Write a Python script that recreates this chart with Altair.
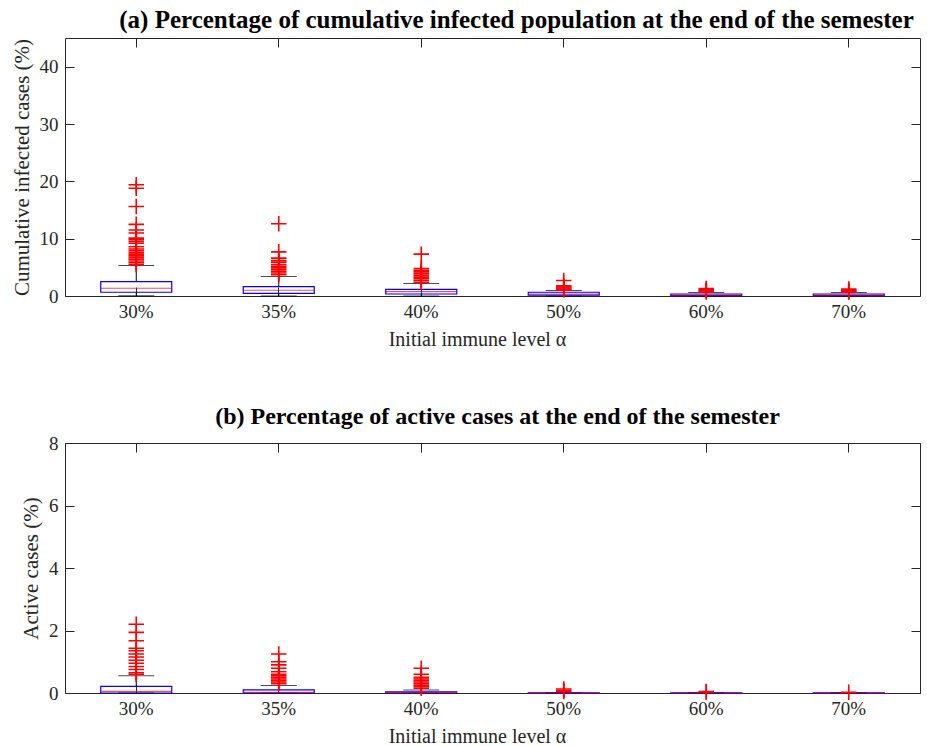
import altair as alt
import pandas as pd

cats = ["30%", "35%", "40%", "50%", "60%", "70%"]

# Panel (a): cumulative infected cases (%)
a_q1 = [0.65, 0.47, 0.35, 0.17, 0.05, 0.05]
a_med = [1.35, 1.0, 0.75, 0.35, 0.15, 0.15]
a_q3 = [2.5, 1.65, 1.15, 0.65, 0.35, 0.35]
a_lo = [0.05, 0.02, 0.0, 0.0, 0.0, 0.0]
a_hi = [5.3, 3.4, 2.2, 0.95, 0.6, 0.6]
a_out = [
    [19.4, 18.8, 15.6, 12.5, 11.5, 11.0, 10.1, 9.8, 9.5, 9.2, 8.6, 8.2, 7.9,
     7.6, 7.3, 7.0, 6.7, 6.4, 6.1, 5.8, 5.5],
    [12.6, 7.7, 6.6, 6.2, 5.9, 5.5, 5.2, 4.9, 4.6, 4.3, 4.0, 3.7],
    [7.3, 4.8, 4.5, 4.2, 3.9, 3.6, 3.3, 3.0, 2.7, 2.4],
    [2.7, 1.8, 1.6, 1.4, 1.2, 1.05],
    [1.3, 1.1, 0.9, 0.7],
    [1.2, 1.0, 0.8, 0.7],
]

# Panel (b): active cases (%)
b_q1 = [0.0, 0.0, 0.0, 0.0, 0.0, 0.0]
b_med = [0.05, 0.02, 0.01, 0.0, 0.0, 0.0]
b_q3 = [0.21, 0.1, 0.04, 0.005, 0.003, 0.002]
b_lo = [0.0, 0.0, 0.0, 0.0, 0.0, 0.0]
b_hi = [0.55, 0.24, 0.1, 0.02, 0.01, 0.005]
b_out = [
    [2.2, 1.94, 1.67, 1.43, 1.35, 1.25, 1.15, 1.05, 0.95, 0.85, 0.75, 0.65, 0.6],
    [1.25, 1.0, 0.9, 0.79, 0.68, 0.6, 0.55, 0.5, 0.45, 0.4, 0.35, 0.3],
    [0.79, 0.6, 0.5, 0.45, 0.4, 0.35, 0.3, 0.25, 0.2, 0.15],
    [0.13, 0.08, 0.05],
    [0.05, 0.03],
    [0.02],
]

FONT = "Liberation Serif"
AX = "#262626"
W = 855
BOXW = 71
CAPW = 36
TICK = 9
PLUS = "M-1,0L1,0M0,-1L0,1"
LBL = 19


def panel(q1, med, q3, lo, hi, outs, ymax, yvals, H, title, ytitle, tdx,
          tsize):
    box = pd.DataFrame({"cat": cats, "q1": q1, "med": med, "q3": q3,
                        "lo": lo, "hi": hi})
    rows = [(c, v) for c, vals in zip(cats, outs) for v in vals]
    out = pd.DataFrame(rows, columns=["cat", "v"])

    xs = alt.Scale(type="band", domain=cats, paddingInner=0, paddingOuter=0)
    ys = alt.Scale(domain=[0, ymax], nice=False, zero=True)

    main_x = alt.Axis(orient="bottom", title="Initial immune level α",
                      labelAngle=0, ticks=False, domain=False,
                      labelFont=FONT, titleFont=FONT,
                      labelFontSize=LBL, titleFontSize=20,
                      titleFontWeight="normal", labelColor=AX,
                      titleColor=AX, labelPadding=6, titlePadding=8,
                      titleX=412)
    main_y = alt.Axis(orient="left", title=ytitle, values=yvals,
                      ticks=False, domain=False,
                      labelFont=FONT, titleFont=FONT,
                      labelFontSize=LBL, titleFontSize=21,
                      titleFontWeight="normal", labelColor=AX,
                      titleColor=AX, labelPadding=7, titlePadding=7)
    in_x = alt.Axis(orient="top", offset=-H, labels=False, title=None,
                    domain=False, ticks=True, tickSize=TICK, tickColor=AX)
    in_y = alt.Axis(orient="right", offset=-W, labels=False, title=None,
                    values=yvals, domain=False, ticks=True, tickSize=TICK,
                    tickColor=AX)
    fr_x = alt.Axis(orient="bottom", offset=-H, labels=False, title=None,
                    domain=False, ticks=True, tickSize=TICK, tickColor=AX)
    fr_y = alt.Axis(orient="left", offset=-W, labels=False, title=None,
                    values=yvals, domain=False, ticks=True, tickSize=TICK,
                    tickColor=AX)

    base = alt.Chart(box)
    up = base.mark_rule(color="black", strokeWidth=1).encode(
        x=alt.X("cat:N", scale=xs, axis=main_x),
        y=alt.Y("q3:Q", scale=ys, axis=main_y),
        y2="hi:Q",
    )
    dn = base.mark_rule(color="black", strokeWidth=1).encode(
        x=alt.X("cat:N", scale=xs, axis=in_x),
        y=alt.Y("lo:Q", scale=ys, axis=in_y),
        y2="q1:Q",
    )
    cap_hi = base.mark_tick(color="black", size=CAPW, thickness=1,
                            orient="horizontal").encode(
        x=alt.X("cat:N", scale=xs, axis=fr_x),
        y=alt.Y("hi:Q", scale=ys, axis=fr_y),
    )
    cap_lo = base.mark_tick(color="black", size=CAPW, thickness=1,
                            orient="horizontal").encode(
        x=alt.X("cat:N", scale=xs, axis=None),
        y=alt.Y("lo:Q", scale=ys, axis=None),
    )
    bx = base.mark_bar(size=BOXW, fillOpacity=0, stroke="#0000FF",
                       strokeWidth=1.2).encode(
        x=alt.X("cat:N", scale=xs, axis=None),
        y=alt.Y("q1:Q", scale=ys, axis=None),
        y2="q3:Q",
    )
    md = base.mark_tick(color="#FF0000", size=BOXW, thickness=1.2,
                        orient="horizontal").encode(
        x=alt.X("cat:N", scale=xs, axis=None),
        y=alt.Y("med:Q", scale=ys, axis=None),
    )
    pts = alt.Chart(out).mark_point(shape=PLUS, size=240, filled=False,
                                    stroke="#FF0000", strokeWidth=1.6,
                                    opacity=1).encode(
        x=alt.X("cat:N", scale=xs, axis=None),
        y=alt.Y("v:Q", scale=ys, axis=None),
    )
    return alt.layer(up, dn, cap_hi, cap_lo, bx, md, pts).resolve_axis(
        x="independent", y="independent"
    ).properties(
        width=W, height=H,
        title=alt.TitleParams(title, font=FONT, fontSize=tsize,
                              fontWeight="bold", color="black",
                              anchor="middle", offset=5, dx=tdx),
    )


pa = panel(a_q1, a_med, a_q3, a_lo, a_hi, a_out, 45, [0, 10, 20, 30, 40],
           258, "(a) Percentage of cumulative infected population at the end of the semester",
           "Cumulative infected cases (%)", 24, 25)
pb = panel(b_q1, b_med, b_q3, b_lo, b_hi, b_out, 8, [0, 2, 4, 6, 8],
           250, "(b) Percentage of active cases at the end of the semester",
           "Active cases (%)", 5, 24)

chart = alt.vconcat(pa, pb, spacing=54).properties(
    padding={"left": 10, "top": 7, "right": 5, "bottom": 5},
    background="white",
).configure_axis(
    labelFont=FONT, titleFont=FONT, labelColor=AX, titleColor=AX,
    tickColor=AX, grid=False,
).configure_view(
    stroke=AX, strokeWidth=1,
)

chart.save("out.html", embed_options={"renderer": "svg", "actions": False})
